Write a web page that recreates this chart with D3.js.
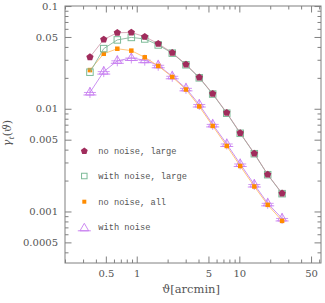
<!DOCTYPE html>
<html><head><meta charset="utf-8">
<script src="https://cdn.jsdelivr.net/npm/d3@7"></script>
<style>body{margin:0;background:#fff}svg{display:block}</style>
</head><body>
<svg id="c" width="325" height="303"></svg>
<script>
// ---- data ----
const theta = [0.350, 0.477, 0.647, 0.886, 1.197, 1.62, 2.22, 3.02, 4.07, 5.5, 7.54, 10.2, 14.0, 18.9, 26.1];
const noNoiseLarge   = [0.0318, 0.0473, 0.0550, 0.0553, 0.0503, 0.0430, 0.0351, 0.0270, 0.0202, 0.0140, 0.00914, 0.00581, 0.00367, 0.00229, 0.00150];
const withNoiseLarge = [0.0227, 0.0385, 0.0468, 0.0495, 0.0478, 0.0418, 0.0348, 0.0268, 0.0200, 0.0139, 0.00905, 0.00577, 0.00365, 0.00228, 0.00149];
const noNoiseAll     = [0.0238, 0.0343, 0.0384, 0.0368, 0.0317, 0.0261, 0.0204, 0.0154, 0.01053, 0.00680, 0.00434, 0.00277, 0.00175, 0.00116, 0.00081];
const withNoise      = [0.0144, 0.0230, 0.0293, 0.0312, 0.0297, 0.0265, 0.0207, 0.0158, 0.0110, 0.00704, 0.00454, 0.00290, 0.00183, 0.00120, 0.000855];
const seriesNames = ["no noise, large", "with noise, large", "no noise, all", "with noise"];
const xTickLabels = [0.5, 1, 5, 10, 50];
const yTickLabels = [0.1, 0.05, 0.01, 0.005, 0.001, 0.0005];

// ---- layout ----
const L = 65, R = 321, T = 6, B = 263;
const svg = d3.select("#c");
const x = d3.scaleLog().domain([0.2, 62.5]).range([L, R]);
const y = d3.scaleLog().domain([3.15e-4, 0.1001]).range([B, T]);
const axisCol = "#808080", textCol = "#555";

// minor tick sets
const xMinor = [], yMinor = [];
for (let e = -1; e <= 1; e++) for (let m = 1; m <= 9; m++) { const v = +(m * Math.pow(10, e)).toPrecision(6); if (v >= 0.2 && v <= 62.5) xMinor.push(v); }
for (let e = -4; e <= -1; e++) for (let m = 1; m <= 9; m++) { const v = +(m * Math.pow(10, e)).toPrecision(6); if (v >= 3.15e-4 && v <= 0.1001) yMinor.push(v); }
const xMajor = xMinor.filter(v => xTickLabels.some(t => Math.abs(t - v) / t < 1e-6));
const yMajor = yMinor.filter(v => yTickLabels.some(t => Math.abs(t - v) / t < 1e-6));
const fmt = v => String(+v.toPrecision(3));

function drawAxis(gen, tr, major, minor, labels) {
  const gMin = svg.append("g").attr("transform", tr).call(gen.tickValues(minor.filter(v => !major.includes(v))).tickSizeInner(-3.5).tickSizeOuter(0).tickFormat(""));
  const gMaj = svg.append("g").attr("transform", tr).call(gen.tickValues(major).tickSizeInner(-6.5).tickSizeOuter(0).tickPadding(7).tickFormat(labels ? fmt : ""));
  [gMin, gMaj].forEach(g => {
    g.select(".domain").remove();
    g.selectAll("line").attr("stroke", axisCol).attr("stroke-width", 1);
    g.selectAll("text").attr("fill", textCol).attr("font-family", "DejaVu Serif").attr("font-size", 10);
  });
}
drawAxis(d3.axisBottom(x), `translate(0,${B})`, xMajor, xMinor, true);
drawAxis(d3.axisTop(x), `translate(0,${T})`, xMajor, xMinor, false);
drawAxis(d3.axisLeft(y), `translate(${L},0)`, yMajor, yMinor, true);
drawAxis(d3.axisRight(y), `translate(${R},0)`, yMajor, yMinor, false);

svg.append("rect").attr("x", L).attr("y", T).attr("width", R - L).attr("height", B - T)
  .attr("fill", "none").attr("stroke", axisCol).attr("stroke-width", 1);

// ---- series ----
const cols = { A: "#a02c5c", Aline: "#c98a9f", B: "#7dbb98", Bline: "#86b79a", C: "#ff8c00", Cline: "#ffbf70", D: "#c77df0", Dline: "#c584f0" };
const line = d3.line().x(d => x(d[0])).y(d => y(d[1]));
const pts = arr => theta.map((t, i) => [t, arr[i]]);

function pentagon(g, cx, cy, r, fill) {
  const p = d3.range(5).map(k => { const a = -Math.PI / 2 + k * 2 * Math.PI / 5; return [cx + r * Math.cos(a), cy + r * Math.sin(a)]; });
  g.append("path").attr("d", "M" + p.join("L") + "Z").attr("fill", fill);
}
function square(g, cx, cy, s, fill, stroke) {
  g.append("rect").attr("x", cx - s / 2).attr("y", cy - s / 2).attr("width", s).attr("height", s)
    .attr("fill", fill).attr("stroke", stroke || "none").attr("stroke-width", 1);
}
function star(g, cx, cy, r, col, legend) {
  const up = d3.range(3).map(k => { const a = -Math.PI / 2 + k * 2 * Math.PI / 3; return [cx + r * Math.cos(a), cy + r * Math.sin(a)]; });
  g.append("path").attr("d", "M" + up.join("L") + "Z").attr("fill", "none").attr("stroke", col).attr("stroke-width", 0.9);
  g.append("line").attr("x1", cx - r * 1.3).attr("x2", cx + r * 1.3).attr("y1", cy + r * 0.5).attr("y2", cy + r * 0.5).attr("stroke", col).attr("stroke-width", 0.9);
  if (!legend) {
    g.append("line").attr("x1", cx - r * 1.2).attr("x2", cx + r * 1.2).attr("y1", cy).attr("y2", cy).attr("stroke", col).attr("stroke-width", 0.8);
    g.append("line").attr("x1", cx).attr("x2", cx).attr("y1", cy - r * 1.1).attr("y2", cy + r * 1.1).attr("stroke", col).attr("stroke-width", 0.8);
  }
}

const gD = svg.append("g");
gD.append("path").datum(pts(withNoise)).attr("d", line).attr("fill", "none").attr("stroke", cols.Dline).attr("stroke-width", 0.9);
pts(withNoise).forEach(d => star(gD, x(d[0]), y(d[1]), 5, cols.D));

const gC = svg.append("g");
gC.append("path").datum(pts(noNoiseAll)).attr("d", line).attr("fill", "none").attr("stroke", cols.Cline).attr("stroke-width", 0.9);
pts(noNoiseAll).forEach(d => square(gC, x(d[0]), y(d[1]), 4.5, cols.C));

const gB = svg.append("g");
gB.append("path").datum(pts(withNoiseLarge)).attr("d", line).attr("fill", "none").attr("stroke", cols.Bline).attr("stroke-width", 0.9);
pts(withNoiseLarge).forEach(d => square(gB, x(d[0]), y(d[1]), 6.5, "none", cols.B));

const gA = svg.append("g");
gA.append("path").datum(pts(noNoiseLarge)).attr("d", line).attr("fill", "none").attr("stroke", cols.Aline).attr("stroke-width", 0.9).attr("stroke-opacity", 0.8);
pts(noNoiseLarge).forEach(d => pentagon(gA, x(d[0]), y(d[1]), 3.8, cols.A));

// ---- legend ----
const legY = [151, 176, 201.7, 227.3];
const lg = svg.append("g");
pentagon(lg, 84.3, legY[0], 3.6, cols.A);
square(lg, 84.3, legY[1], 5.5, "none", cols.B);
square(lg, 84.3, legY[2], 4, cols.C);
star(lg, 84.3, legY[3] + 1, 5, cols.D, true);
seriesNames.forEach((n, i) => lg.append("text").attr("x", 98.3).attr("y", legY[i]).attr("dy", "0.35em")
  .attr("font-family", "Liberation Mono").attr("font-size", 8.7).attr("fill", textCol).text(n));

// ---- axis titles ----
svg.append("text").attr("x", 191).attr("y", 293).attr("text-anchor", "middle")
  .attr("font-family", "DejaVu Serif").attr("font-size", 11.5).attr("fill", textCol)
  .text("ϑ[arcmin]");
const yl = svg.append("text").attr("transform", "translate(11,133) rotate(-90)").attr("text-anchor", "middle")
  .attr("font-family", "DejaVu Serif").attr("font-size", 11).attr("fill", textCol);
yl.append("tspan").attr("font-style", "italic").text("γ");
yl.append("tspan").attr("font-size", 8).attr("dy", 2.5).attr("font-style", "italic").text("t");
yl.append("tspan").attr("dy", -2.5).text("(");
yl.append("tspan").attr("font-style", "italic").text("ϑ");
yl.append("tspan").text(")");
</script>
</body></html>
